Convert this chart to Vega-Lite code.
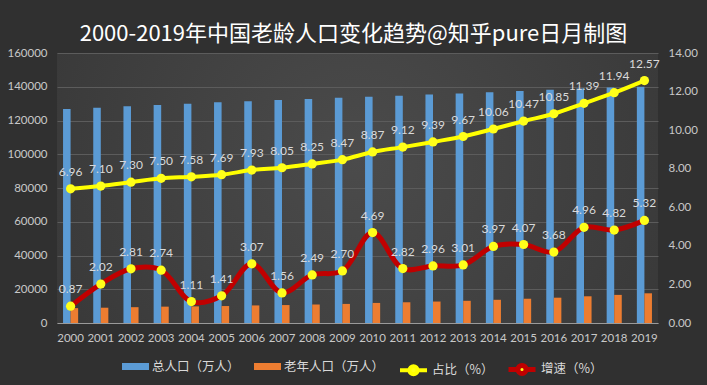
{
  "$schema": "https://vega.github.io/schema/vega-lite/v6.json",
  "width": 601,
  "height": 270,
  "autosize": {"type": "none"},
  "padding": {"left": 57, "top": 53, "right": 49, "bottom": 62},
  "background": "#303030",
  "title": {
    "text": "2000-2019年中国老龄人口变化趋势@知乎pure日月制图",
    "font": "Noto Sans CJK SC",
    "fontSize": 22,
    "fontWeight": "normal",
    "color": "#ffffff",
    "anchor": "middle",
    "baseline": "bottom",
    "offset": 6,
    "dx": -4,
    "dy": 27
  },
  "data": {
    "values": [
      {"year": "2000", "total": 126743, "elderly": 8821, "ratio": 6.96, "growth": 0.87},
      {"year": "2001", "total": 127627, "elderly": 9062, "ratio": 7.10, "growth": 2.02},
      {"year": "2002", "total": 128453, "elderly": 9377, "ratio": 7.30, "growth": 2.81},
      {"year": "2003", "total": 129227, "elderly": 9692, "ratio": 7.50, "growth": 2.74},
      {"year": "2004", "total": 129988, "elderly": 9857, "ratio": 7.58, "growth": 1.11},
      {"year": "2005", "total": 130756, "elderly": 10055, "ratio": 7.69, "growth": 1.41},
      {"year": "2006", "total": 131448, "elderly": 10419, "ratio": 7.93, "growth": 3.07},
      {"year": "2007", "total": 132129, "elderly": 10636, "ratio": 8.05, "growth": 1.56},
      {"year": "2008", "total": 132802, "elderly": 10956, "ratio": 8.25, "growth": 2.49},
      {"year": "2009", "total": 133450, "elderly": 11307, "ratio": 8.47, "growth": 2.70},
      {"year": "2010", "total": 134091, "elderly": 11894, "ratio": 8.87, "growth": 4.69},
      {"year": "2011", "total": 134735, "elderly": 12288, "ratio": 9.12, "growth": 2.82},
      {"year": "2012", "total": 135404, "elderly": 12714, "ratio": 9.39, "growth": 2.96},
      {"year": "2013", "total": 136072, "elderly": 13161, "ratio": 9.67, "growth": 3.01},
      {"year": "2014", "total": 136782, "elderly": 13755, "ratio": 10.06, "growth": 3.97},
      {"year": "2015", "total": 137462, "elderly": 14386, "ratio": 10.47, "growth": 4.07},
      {"year": "2016", "total": 138271, "elderly": 15003, "ratio": 10.85, "growth": 3.68},
      {"year": "2017", "total": 139008, "elderly": 15831, "ratio": 11.39, "growth": 4.96},
      {"year": "2018", "total": 139538, "elderly": 16658, "ratio": 11.94, "growth": 4.82},
      {"year": "2019", "total": 140005, "elderly": 17603, "ratio": 12.57, "growth": 5.32}
    ]
  },
  "encoding": {
    "x": {
      "field": "year",
      "type": "nominal",
      "scale": {"paddingInner": 0.5},
      "axis": {
        "title": null,
        "labelAngle": 0,
        "ticks": false,
        "domain": true,
        "domainColor": "#9a9a9a",
        "domainWidth": 1,
        "labelPadding": 9,
        "grid": false
      }
    }
  },
  "layer": [
    {
      "transform": [{"fold": ["total", "elderly"], "as": ["series", "pop"]}],
      "mark": {"type": "bar"},
      "encoding": {
        "xOffset": {"field": "series", "type": "nominal", "sort": ["total", "elderly"], "scale": {"domain": ["total", "elderly"], "paddingInner": 0, "paddingOuter": 0}},
        "y": {
          "field": "pop",
          "type": "quantitative",
          "scale": {"domain": [0, 160000], "nice": false},
          "axis": {
            "title": null,
            "values": [0, 20000, 40000, 60000, 80000, 100000, 120000, 140000, 160000],
            "format": "d",
            "grid": true,
            "gridColor": "#5c5c5c",
            "gridWidth": 1,
            "domain": false,
            "ticks": false,
            "labelPadding": 10,
            "orient": "left"
          }
        },
        "fill": {
          "field": "series",
          "type": "nominal",
          "scale": {"domain": ["total", "elderly"], "range": ["#5b9bd5", "#ed7d31"]},
          "legend": {
            "orient": "none",
            "legendX": 65,
            "legendY": 300,
            "direction": "horizontal",
            "title": null,
            "labelExpr": "datum.value == 'total' ? '总人口（万人）' : '老年人口（万人）'",
            "labelFont": "Noto Sans CJK SC",
            "labelFontSize": 12.5,
            "labelColor": "#d9d9d9",
            "labelOffset": 3,
            "columnPadding": 14,
            "symbolSize": 729,
            "symbolType": "M-1,-0.26H1V0.26H-1Z",
            "symbolStrokeWidth": 0,
            "symbolOpacity": 1
          }
        }
      }
    },
    {
      "transform": [{"fold": ["ratio", "growth"], "as": ["series", "rate"]}],
      "encoding": {
        "y": {
          "field": "rate",
          "type": "quantitative",
          "scale": {"domain": [0, 14], "nice": false},
          "axis": {
            "title": null,
            "orient": "right",
            "values": [0, 2, 4, 6, 8, 10, 12, 14],
            "format": ".2f",
            "grid": false,
            "domain": false,
            "ticks": false,
            "labelPadding": 10
          }
        }
      },
      "layer": [
        {
          "mark": {"type": "line", "interpolate": "catmull-rom"},
          "encoding": {
            "stroke": {
              "field": "series",
              "type": "nominal",
              "scale": {"domain": ["ratio", "growth"], "range": ["#ffff00", "#c00000"]},
              "legend": {
                "orient": "none",
                "legendX": 341,
                "legendY": 300,
                "direction": "horizontal",
                "title": null,
                "labelExpr": "datum.value == 'ratio' ? '占比（%）' : '增速（%）'",
                "labelFont": "Noto Sans CJK SC",
                "labelFontSize": 12.5,
                "labelColor": "#d9d9d9",
                "labelOffset": 3,
                "columnPadding": 4,
                "symbolSize": 729,
                "symbolType": "M-1,0H-0.3M0.3,0H1M-0.3,0A0.3,0.3 0 1,1 0.3,0A0.3,0.3 0 1,1 -0.3,0Z",
                "symbolStrokeWidth": 3,
                "symbolFillColor": "#ffff1a",
                "symbolOpacity": 1
              }
            },
            "strokeWidth": {"field": "series", "type": "nominal", "scale": {"domain": ["ratio", "growth"], "range": [4, 5]}, "legend": null}
          }
        },
        {
          "mark": {"type": "point", "filled": true, "opacity": 1, "size": 85, "color": "#ffff1a"},
          "encoding": {"detail": {"field": "series", "type": "nominal"}}
        },
        {
          "mark": {"type": "text", "baseline": "middle", "dy": -17, "font": "Lato", "fontSize": 12, "color": "#d9d9d9"},
          "encoding": {
            "text": {"field": "rate", "type": "quantitative", "format": ".2f"},
            "detail": {"field": "series", "type": "nominal"}
          }
        }
      ]
    }
  ],
  "resolve": {"scale": {"y": "independent"}},
  "config": {
    "view": {
      "stroke": null,
      "fill": {
        "gradient": "radial",
        "x1": 0.5, "y1": 0.45, "x2": 0.5, "y2": 0.45, "r1": 0, "r2": 0.75,
        "stops": [{"offset": 0, "color": "#4b4b4b"}, {"offset": 1, "color": "#333333"}]
      }
    },
    "axis": {
      "labelFont": "Lato",
      "labelFontSize": 11.5,
      "labelColor": "#c8c8c8"
    }
  }
}
